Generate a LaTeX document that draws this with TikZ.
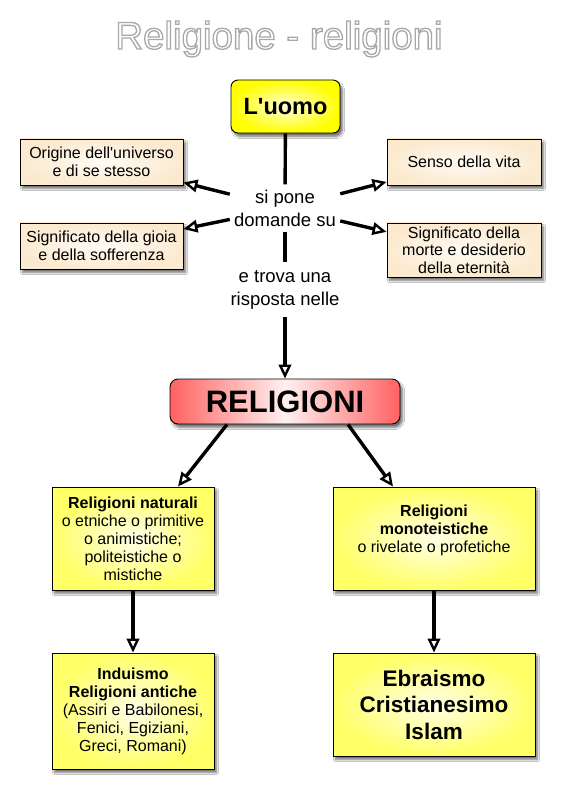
\documentclass[tikz,border=0pt]{standalone}
\usepackage{fontspec}
\setmainfont{Liberation Sans}[Ligatures=TeXOff]
\usetikzlibrary{arrows.meta,shadows.blur}
\definecolor{cream}{HTML}{FBEAD0}
\definecolor{creamin}{HTML}{FFFBF5}
\definecolor{yel}{HTML}{FFFF66}
\definecolor{yelin}{HTML}{FFFFE8}
\definecolor{yelL}{HTML}{FFFF00}
\definecolor{yelLin}{HTML}{FFFFD8}
\definecolor{redb}{HTML}{FF6262}
\definecolor{redin}{HTML}{FFF0F0}
\begin{document}
\begin{tikzpicture}[x=1pt,y=-1pt,
  shd/.style={blur shadow={shadow xshift=2.5pt,shadow yshift=-3.5pt,shadow blur steps=6,shadow opacity=55}},
  smallbox/.style={draw=black,line width=0.9pt,inner sep=0pt,align=center,
    font=\fontsize{16}{17.5}\selectfont,inner color=creamin,outer color=cream,shd},
  bigbox/.style={draw=black,line width=0.9pt,inner sep=0pt,align=center,
    font=\fontsize{16}{18}\selectfont,inner color=yelin,outer color=yel,shd},
  lbl/.style={inner sep=0pt,align=center,font=\fontsize{18.5}{23}\selectfont},
  conn/.style={line width=3.4pt},
  arr/.style={conn,-{Triangle[open,length=14pt,width=12.5pt,line width=2.4pt]}},
]
\fill[white] (0,0) rectangle (561,794);
\useasboundingbox (0,0) rectangle (561,794);

% title
\node[font=\fontsize{38.5}{40}\selectfont,text=white,anchor=base,inner sep=0pt] (title) at (279,49)
  {\special{pdf:literal direct 2 Tr 1.3 w 0.66 0.66 0.66 RG}Religione - religioni\special{pdf:literal direct 0 Tr}};

% top
\node[draw=black,line width=0.9pt,rounded corners=7pt,inner sep=0pt,minimum width=109pt,minimum height=53pt,
  inner color=yelLin,outer color=yelL,shd,font=\bfseries\fontsize{23.5}{26}\selectfont] (uomo) at (285.5,106.5) {L'uomo};

\node[lbl,minimum width=110pt,minimum height=47pt] (sipone) at (285,208) {si pone\\domande su};
\node[lbl,minimum width=112pt,minimum height=55pt] (etrova) at (285,289.5) {e trova una\\risposta nelle};

\node[smallbox,minimum width=163pt,minimum height=46pt] (o1) at (101.5,162) {Origine dell'universo\\e di se stesso};
\node[smallbox,minimum width=163pt,minimum height=46pt] (o2) at (101.5,246) {Significato della gioia\\e della sofferenza};
\node[smallbox,minimum width=154pt,minimum height=46pt] (s1) at (464,162) {Senso della vita};
\node[smallbox,minimum width=154pt,minimum height=54pt] (s2) at (464,250) {Significato della\\morte e desiderio\\della eternità};

\node[draw=black,line width=0.9pt,rounded corners=8pt,inner sep=0pt,minimum width=230pt,minimum height=45pt,
  left color=redb,right color=redb,middle color=redin,shd,font=\bfseries\fontsize{31}{34}\selectfont] (rel) at (285,401.5) {RELIGIONI};

\node[bigbox,minimum width=162pt,minimum height=103pt] (nat) at (133,538.5)
  {\textbf{Religioni naturali}\\o etniche o primitive\\o animistiche;\\politeistiche o\\mistiche};
\node[bigbox,minimum width=202pt,minimum height=103pt] (mono) at (434,538.5)
  {\textbf{Religioni}\\\textbf{monoteistiche}\\o rivelate o profetiche\rule[-20pt]{0pt}{20pt}};
\node[bigbox,minimum width=162pt,minimum height=116pt] (ind) at (133,711)
  {\textbf{Induismo}\\\textbf{Religioni antiche}\\(Assiri e Babilonesi,\\Fenici, Egiziani,\\Greci, Romani)};
\node[bigbox,minimum width=202pt,minimum height=103pt,font=\bfseries\fontsize{22.5}{26.5}\selectfont] (ebr) at (434,704.5)
  {Ebraismo\\Cristianesimo\\Islam};

% connectors
\draw[conn] (uomo) -- (sipone);
\draw[conn] (sipone) -- (etrova);
\draw[arr] (etrova) -- (rel);
\draw[arr] (sipone) -- (o1);
\draw[arr] (sipone) -- (o2);
\draw[arr] (sipone) -- (s1);
\draw[arr] (sipone) -- (s2);
\draw[arr] ([xshift=-58pt]rel.south) -- ([xshift=45pt]nat.north);
\draw[arr] ([xshift=63pt]rel.south) -- ([xshift=-41pt]mono.north);
\draw[arr] (nat) -- (ind);
\draw[arr] (mono) -- (ebr);
\end{tikzpicture}
\end{document}
